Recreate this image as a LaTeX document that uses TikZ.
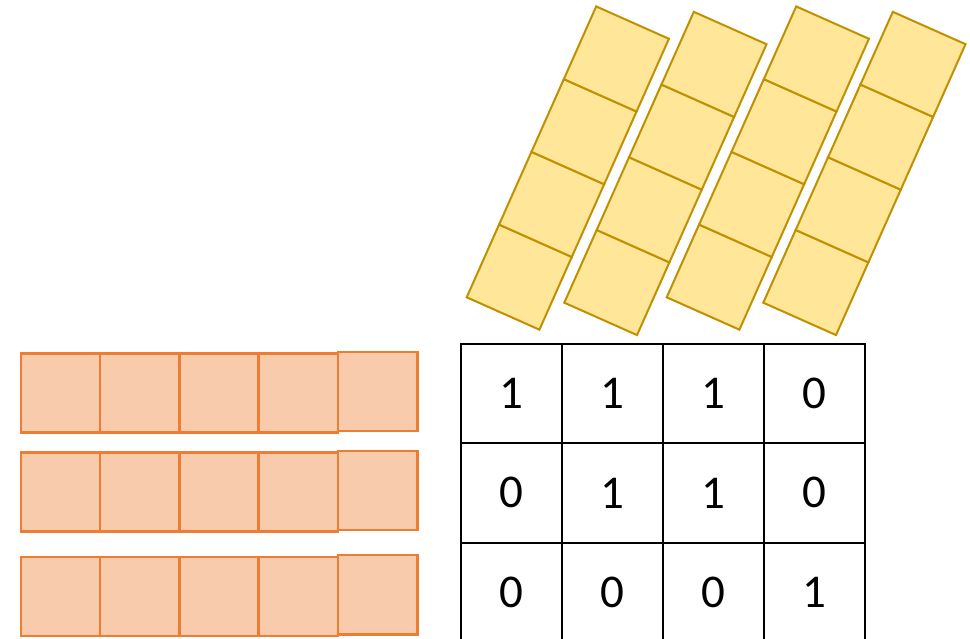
\documentclass[tikz,border=0pt]{standalone}
\usepackage{fontspec}
\setmainfont{Carlito}
\usepackage{tikz}
\usetikzlibrary{positioning}

\definecolor{orangeline}{HTML}{ED7D31}
\definecolor{orangefill}{HTML}{F8CBAD}
\definecolor{goldline}{HTML}{BF9000}
\definecolor{goldfill}{HTML}{FFE699}

\begin{document}
\begin{tikzpicture}[x=1pt,y=-1pt,
  osq/.style={draw=orangeline,fill=orangefill,line width=2.4pt},
  ysq/.style={draw=goldline,fill=goldfill,line width=2pt},
  cell/.style={draw=black,line width=2pt,minimum width=101pt,minimum height=99.3pt,
    inner sep=0pt,font=\fontsize{47}{50}\selectfont}]
\useasboundingbox (0,0) rectangle (970,638);
% tilted bars, four squares each
\foreach \bx/\by in {466.7/297.3,564.3/302.7,666.7/297.3,763.3/302.7} {
  \begin{scope}[shift={(\bx,\by)},rotate=-24]
    \foreach \k in {0,...,3}
      \draw[ysq] (0,-\k*79.6) rectangle ++(79.6,-79.6);
  \end{scope}
}
% orange rows
\foreach \ty in {353.3,452.3,556.7} {
  \foreach \k in {0,...,3}
    \draw[osq] (20.7+\k*79.3,\ty) rectangle ++(79.3,79.3);
  \draw[osq] (338,\ty-1.5) rectangle ++(79.3,79.3);
}
% bit grid
\foreach \row [count=\r from 0] in {{1,1,1,0},{0,1,1,0},{0,0,0,1}} {
  \foreach \v [count=\c from 0] in \row
    \node[cell] (b\r\c) at (511.2+\c*101,393.6+\r*99.3) {\v};
}
\end{tikzpicture}
\end{document}
